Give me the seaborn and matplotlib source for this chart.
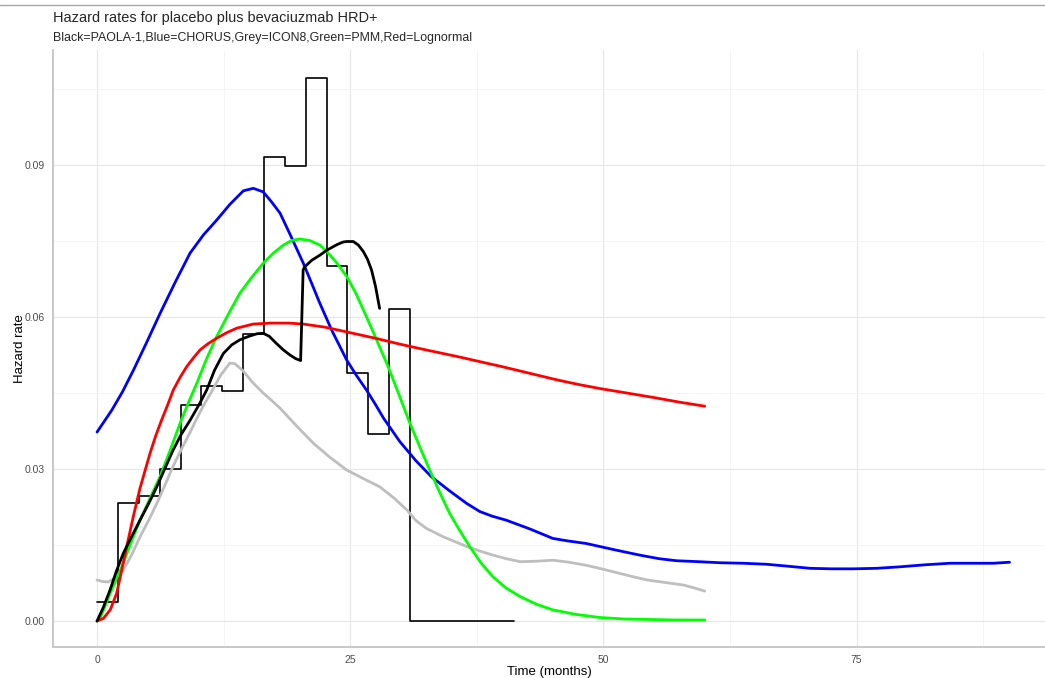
import numpy as np
import pandas as pd
import matplotlib
matplotlib.use("Agg")
import matplotlib.pyplot as plt
import seaborn as sns
from matplotlib.lines import Line2D
from matplotlib.ticker import FixedLocator, FormatStrFormatter

# ---------------- data ----------------
# PAOLA-1 piecewise hazard (step, interval starts and values)
step_time = [0, 2.06, 4.12, 6.18, 8.24, 10.3, 12.36, 14.42, 16.48, 18.54,
             20.6, 22.66, 24.72, 26.78, 28.84, 30.9, 41.2]
step_haz = [0.0038, 0.0232, 0.0246, 0.0301, 0.0426, 0.0464, 0.0453, 0.0566,
            0.0916, 0.0898, 0.1071, 0.0701, 0.0490, 0.0369, 0.0616, 0.0, 0.0]

# PAOLA-1 smoothed hazard (black)
paola_t = [0, 0.6, 1.28, 1.9, 2.6, 3.4, 4.24, 5.1, 5.9, 6.7, 7.5, 8.3, 9.18,
           10.1, 10.83, 11.6, 12.47, 13.3, 14.1, 15.0, 15.8, 16.4, 17.0,
           17.7, 18.4, 19.05, 19.6, 20.1, 20.22, 20.35, 20.5, 21.2, 22.0, 22.7,
           23.7, 24.3, 24.65, 25.3, 25.8, 26.3, 26.7, 27.1, 27.5, 27.9]
paola_h = [0.0, 0.0026, 0.0061, 0.0098, 0.0134, 0.0166, 0.0199, 0.0232, 0.0265,
           0.0301, 0.0337, 0.0368, 0.0396, 0.0428, 0.0456, 0.0495, 0.0528, 0.0545,
           0.0555, 0.0562, 0.0567, 0.0568, 0.0562, 0.0548, 0.0535,
           0.0525, 0.0518, 0.0514, 0.0600, 0.0693, 0.0699, 0.0712, 0.0722, 0.0732,
           0.0743, 0.0748, 0.0749, 0.0749, 0.0742, 0.0729, 0.0714, 0.0693, 0.0660,
           0.0617]

# CHORUS (blue)
chorus_t = [0, 1.45, 2.5, 3.59, 4.9, 6.22, 7.7, 9.18, 10.5, 11.8, 13.1, 14.44,
            15.43, 16.4, 17.2, 18.07, 19.2, 20.37, 21.2, 22.0, 23.17, 24.65, 25.6,
            26.6, 27.5, 28.3, 29.9, 31.5, 33.0, 34.8, 36.5, 37.8, 39.0, 40.4, 42.7,
            45.0, 46.5, 48.3, 51.0, 53.6, 55.5, 57.2, 59.5, 61.5, 63.8, 66.1, 68.3,
            70.4, 72.5, 74.7, 77.0, 79.3, 81.8, 84.2, 86.3, 88.5, 90.1]
chorus_h = [0.0373, 0.0416, 0.0452, 0.0495, 0.0550, 0.0607, 0.0668, 0.0726,
            0.0762, 0.0791, 0.0822, 0.0849, 0.0854, 0.0847, 0.0828, 0.0805, 0.0757,
            0.0706, 0.0666, 0.0627, 0.0574, 0.0515, 0.0485, 0.0456, 0.0427, 0.0400,
            0.0354, 0.0316, 0.0285, 0.0257, 0.0232, 0.0216, 0.0207, 0.0199, 0.0182,
            0.0163, 0.0158, 0.0153, 0.0141, 0.0130, 0.0123, 0.0119, 0.0117, 0.0115,
            0.0114, 0.0112, 0.0108, 0.0104, 0.0103, 0.0103, 0.0104, 0.0107, 0.0111,
            0.0114, 0.0114, 0.0114, 0.0116]

# ICON8 (grey)
icon8_t = [0, 0.5, 1.1, 1.8, 2.6, 3.4, 4.24, 5.1, 5.9, 6.7, 7.5, 8.3, 9.18, 9.8,
           10.5, 11.3, 12.2, 13.1, 13.6, 14.4, 15.4, 16.4, 17.2, 18.07, 19.7,
           21.35, 23.0, 24.65, 26.3, 27.9, 29.3, 30.6, 31.5, 32.5, 34.2, 35.3,
           36.5, 37.8, 39.1, 40.4, 41.8, 43.4, 45.0, 46.6, 48.3, 49.6, 51.0, 52.6,
           54.3, 56.1, 57.9, 59.0, 60.0]
icon8_h = [0.0081, 0.0078, 0.0077, 0.0085, 0.0101, 0.0130, 0.0166, 0.0199,
           0.0232, 0.0268, 0.0305, 0.0338, 0.0372, 0.0398, 0.0425, 0.0452, 0.0485,
           0.0509, 0.0508, 0.0494, 0.0470, 0.0450, 0.0436, 0.0420, 0.0385, 0.0351,
           0.0323, 0.0298, 0.0281, 0.0265, 0.0243, 0.0219, 0.0198, 0.0183, 0.0166,
           0.0157, 0.0147, 0.0138, 0.0130, 0.0123, 0.0117, 0.0118, 0.0120, 0.0116,
           0.0110, 0.0104, 0.0097, 0.0089, 0.0081, 0.0076, 0.0071, 0.0065, 0.0059]

# PMM (green)
pmm_t = [0, 0.3, 1.3, 2.44, 3.3, 4.24, 5.2, 6.22, 7.2, 8.19, 9.0, 9.84, 10.8,
         11.8, 13.0, 14.1, 15.3, 16.4, 17.4, 18.4, 19.2, 20.0, 21.0, 22.0, 22.7,
         23.7, 24.65, 25.5, 26.3, 27.1, 27.9, 28.6, 29.25, 30.0, 30.8, 31.9, 33.0,
         33.9, 34.8, 35.8, 36.8, 37.9, 39.1, 40.4, 41.8, 43.4, 45.0, 47.3, 49.6,
         52.0, 54.6, 57.0, 60.0]
pmm_h = [0.0, 0.0005, 0.0055, 0.0107, 0.0152, 0.0199, 0.0241, 0.0285, 0.0336,
         0.0390, 0.0430, 0.0469, 0.0517, 0.0561, 0.0607, 0.0647, 0.0679, 0.0706,
         0.0726, 0.0742, 0.0751, 0.0754, 0.0751, 0.0742, 0.0729, 0.0706, 0.0680,
         0.0649, 0.0614, 0.0578, 0.0541, 0.0509, 0.0476, 0.0437, 0.0395, 0.0342,
         0.0291, 0.0251, 0.0213, 0.0179, 0.0147, 0.0115, 0.0087, 0.0065, 0.0048,
         0.0033, 0.0022, 0.0013, 0.0007, 0.0004, 0.0003, 0.0002, 0.0002]

# Lognormal (red)
logn_t = [0, 0.62, 1.3, 1.94, 2.4, 2.93, 3.6, 4.24, 5.23, 5.8, 6.38, 7.0, 7.53,
          8.2, 8.85, 9.5, 10.17, 11.0, 11.8, 12.8, 13.8, 15.4, 17.1, 18.9, 20.4,
          22.5, 25.0, 27.5, 30.0, 32.5, 35.8, 38.0, 40.0, 42.7, 45.4, 47.5, 49.6,
          52.3, 55.0, 57.5, 60.0]
logn_h = [0.0, 0.0005, 0.0022, 0.0055, 0.0097, 0.0147, 0.0208, 0.0262, 0.0331,
          0.0366, 0.0397, 0.0428, 0.0456, 0.0481, 0.0502, 0.0519, 0.0535, 0.0548,
          0.0558, 0.0569, 0.0578, 0.0586, 0.0588, 0.0588, 0.0586, 0.0580, 0.0569,
          0.0558, 0.0546, 0.0535, 0.0521, 0.0511, 0.0502, 0.0489, 0.0476, 0.0467,
          0.0459, 0.0450, 0.0441, 0.0432, 0.0424]

title = "Hazard rates for placebo plus bevaciuzmab HRD+"
subtitle = "Black=PAOLA-1,Blue=CHORUS,Grey=ICON8,Green=PMM,Red=Lognormal"
x_ticks = [0, 25, 50, 75]
y_ticks = [0.00, 0.03, 0.06, 0.09]

# ---------------- plot ----------------
sns.set_theme(style="white")
plt.rcParams['font.family'] = ['Liberation Sans', 'DejaVu Sans']

fig = plt.figure(figsize=(10.45, 6.78), dpi=100)
ax = fig.add_axes([53/1045, 1 - 647/678, 1 - 53/1045, (647 - 50)/678])

lw = 2.0
common = dict(estimator=None, sort=False, solid_joinstyle="round")
sns.lineplot(x=step_time, y=step_haz, ax=ax, color="black", linewidth=1.2,
             drawstyle="steps-post", estimator=None, sort=False)
sns.lineplot(x=icon8_t, y=icon8_h, ax=ax, color="#bebebe", linewidth=lw, **common)
sns.lineplot(x=chorus_t, y=chorus_h, ax=ax, color="#0000ff", linewidth=lw, **common)
sns.lineplot(x=pmm_t, y=pmm_h, ax=ax, color="#00ff00", linewidth=lw, **common)
sns.lineplot(x=logn_t, y=logn_h, ax=ax, color="#ff0000", linewidth=lw, **common)
sns.lineplot(x=paola_t, y=paola_h, ax=ax, color="black", linewidth=lw, **common)

ax.set_xlim(-4.35, 93.6)
ax.set_ylim(-0.00513, 0.1127)
ax.xaxis.set_major_locator(FixedLocator(x_ticks))
ax.yaxis.set_major_locator(FixedLocator(y_ticks))
ax.xaxis.set_minor_locator(FixedLocator([12.5, 37.5, 62.5, 87.5]))
ax.yaxis.set_minor_locator(FixedLocator([0.015, 0.045, 0.075, 0.105]))
ax.yaxis.set_major_formatter(FormatStrFormatter("%.2f"))
ax.grid(which="major", color="#e6e6e6", linewidth=0.8)
ax.grid(which="minor", color="#f2f2f2", linewidth=0.5)
ax.set_axisbelow(True)
ax.tick_params(axis="both", which="both", length=0, labelsize=7.5,
               labelcolor="#4d4d4d", pad=6)
for s in ["top", "right"]:
    ax.spines[s].set_visible(False)
for s in ["left", "bottom"]:
    ax.spines[s].set_color("#c8c8c8")
    ax.spines[s].set_linewidth(1.4)

ax.set_xlabel("Time (months)", fontsize=9.5, color="black", labelpad=0.3)
ax.set_ylabel("Hazard rate", fontsize=9.5, color="black", labelpad=-1)

fig.text(53/1045, 1 - 18/678, title, fontsize=10.45, ha="left", va="center")
fig.text(53/1045, 1 - 38/678, subtitle, fontsize=8.9, ha="left", va="center")
fig.add_artist(Line2D([0, 1], [1 - 5/678, 1 - 5/678], transform=fig.transFigure,
                      color="#a6a6a6", linewidth=1.0))

fig.savefig("out.png", dpi=100)
